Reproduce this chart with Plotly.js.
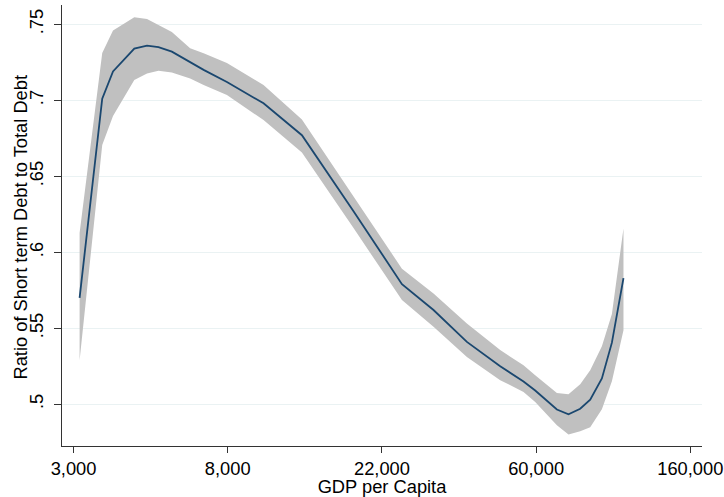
<!DOCTYPE html>
<html>
<head>
<meta charset="utf-8">
<script src="https://cdn.plot.ly/plotly-3.0.1.min.js"></script>
<style>html,body{margin:0;padding:0;background:#fff;}#chart{width:724px;height:497px;}</style>
</head>
<body>
<div id="chart"></div>
<script>
// GDP per capita (US$) at which the local polynomial fit is read
const gdpPerCapita = [3100, 3590, 3850, 4420, 4800, 5170, 5640, 6350, 6930, 8060, 10220, 13110, 18320, 25080, 30780, 38220, 47440, 55180, 59530, 68520, 73870, 79700, 85040, 91740, 97890, 105530];
// Fitted ratio of short-term debt to total debt
const fitRatio = [0.570, 0.701, 0.719, 0.734, 0.736, 0.735, 0.732, 0.725, 0.720, 0.712, 0.698, 0.677, 0.627, 0.579, 0.562, 0.541, 0.525, 0.515, 0.509, 0.4965, 0.4934, 0.497, 0.503, 0.517, 0.5405, 0.583];
// 95% confidence band
const ciUpper = [0.6126, 0.7311, 0.7459, 0.7546, 0.7535, 0.7495, 0.7449, 0.7342, 0.7309, 0.7245, 0.710, 0.6873, 0.637, 0.5892, 0.5729, 0.5531, 0.5356, 0.5257, 0.5191, 0.5074, 0.5066, 0.5132, 0.5224, 0.5382, 0.5593, 0.6157];
const ciLower = [0.529, 0.6705, 0.6896, 0.7133, 0.7177, 0.7194, 0.7183, 0.7144, 0.710, 0.7034, 0.687, 0.6656, 0.6159, 0.5685, 0.5509, 0.5311, 0.5158, 0.5081, 0.5015, 0.4862, 0.4801, 0.4822, 0.4849, 0.4967, 0.5151, 0.5487];
// Axis ticks (x ticks sit at e^8 ... e^12)
const xTickVals = [Math.exp(8), Math.exp(9), Math.exp(10), Math.exp(11), Math.exp(12)];
const xTickText = ['3,000', '8,000', '22,000', '60,000', '160,000'];
const yTickVals = [0.5, 0.55, 0.6, 0.65, 0.7, 0.75];
const yTickText = ['.5', '.55', '.6', '.65', '.7', '.75'];
const xTitle = 'GDP per Capita';
const yTitle = 'Ratio of Short term Debt to Total Debt';

const font = {family: 'Liberation Sans, Arial, sans-serif', size: 18.3, color: '#000'};

const traces = [
  {x: gdpPerCapita, y: ciUpper, type: 'scatter', mode: 'lines', line: {width: 0, color: 'rgba(0,0,0,0)'}, hoverinfo: 'skip', showlegend: false},
  {x: gdpPerCapita, y: ciLower, type: 'scatter', mode: 'lines', line: {width: 0, color: 'rgba(0,0,0,0)'}, fill: 'tonexty', fillcolor: 'rgb(192,192,192)', showlegend: false},
  {x: gdpPerCapita, y: fitRatio, type: 'scatter', mode: 'lines', line: {color: '#1a476f', width: 1.8}, showlegend: false}
];

const layout = {
  width: 724, height: 497,
  margin: {l: 62, r: 22, t: 5, b: 51},
  paper_bgcolor: '#fff', plot_bgcolor: '#fff',
  font: font,
  showlegend: false,
  xaxis: {
    type: 'log',
    range: [Math.log10(Math.exp(7.925)), Math.log10(Math.exp(12.076))],
    tickvals: xTickVals, ticktext: xTickText,
    ticks: 'outside', ticklen: 6, tickwidth: 1, tickcolor: '#333',
    showline: true, linecolor: '#333', linewidth: 1.3,
    showgrid: false, zeroline: false,
    tickfont: font,
    title: {text: xTitle, font: font, standoff: 4},
    automargin: false
  },
  yaxis: {
    range: [0.4725, 0.7627],
    tickvals: yTickVals, ticktext: yTickText,
    tickangle: -90,
    ticks: 'outside', ticklen: 7, tickwidth: 1, tickcolor: '#333',
    ticklabelstandoff: 3,
    showline: true, linecolor: '#333', linewidth: 1.3,
    showgrid: true, gridcolor: '#eaf2f3', gridwidth: 1,
    zeroline: false,
    tickfont: font,
    automargin: false
  },
  annotations: [{
    text: yTitle, font: font, textangle: -90,
    xref: 'paper', yref: 'paper', x: 0, y: 0.5,
    xanchor: 'center', yanchor: 'middle', xshift: -42, yshift: -2,
    showarrow: false
  }]
};

Plotly.newPlot('chart', traces, layout, {displayModeBar: false, staticPlot: true});
</script>
</body>
</html>
